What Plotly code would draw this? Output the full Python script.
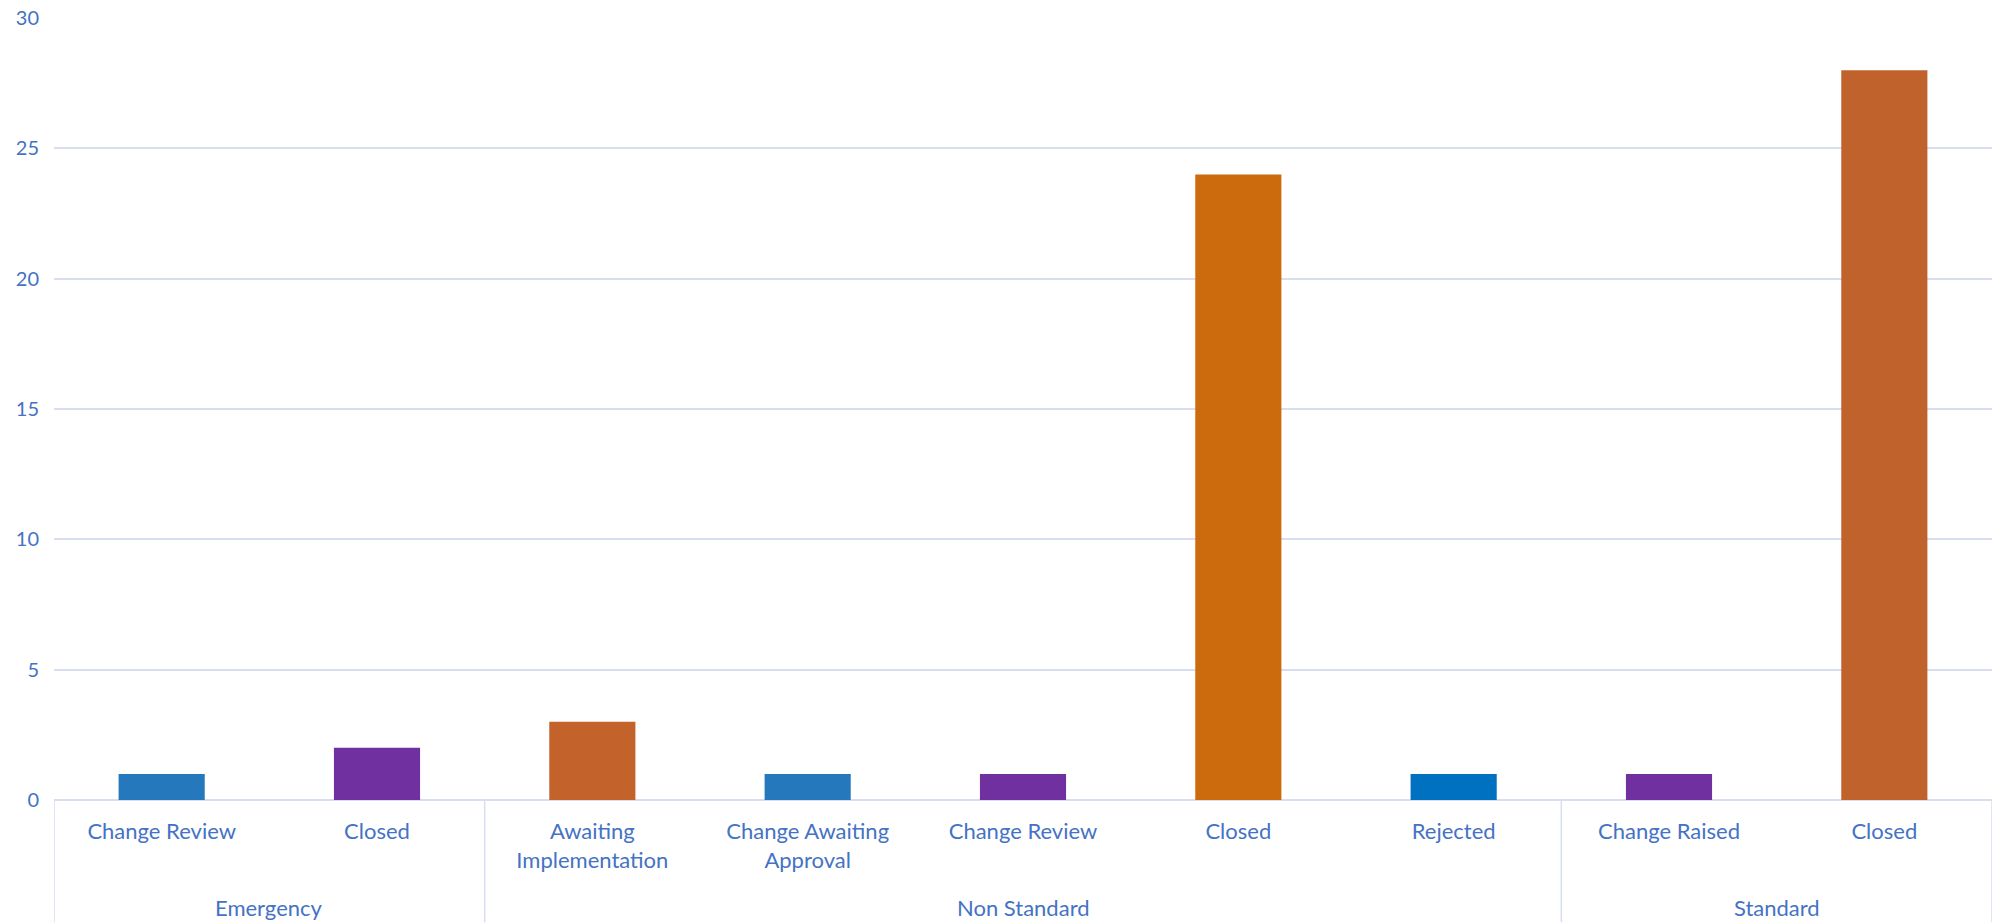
import plotly.graph_objects as go

groups = ["Emergency", "Emergency", "Non Standard", "Non Standard", "Non Standard",
          "Non Standard", "Non Standard", "Standard", "Standard"]
statuses = ["Change Review", "Closed", "Awaiting<br>Implementation", "Change Awaiting<br>Approval",
            "Change Review", "Closed", "Rejected", "Change Raised", "Closed"]
counts = [1, 2, 3, 1, 1, 24, 1, 1, 28]
y_ticks = [0, 5, 10, 15, 20, 25, 30]

bar_colors = ["#2678BC", "#7030A0", "#C3622B", "#2678BC", "#7030A0",
              "#CC6A0E", "#0070C0", "#7030A0", "#C0622C"]

text_color = "#4472C4"
grid_color = "#D6DEEF"
FONT = "Lato, Calibri, sans-serif"

W, H = 1997, 923
M_L, M_R, M_T, M_B = 54, 5, 13, 123
plot_h = H - M_T - M_B

xs = list(range(len(statuses)))

fig = go.Figure(go.Bar(
    x=xs,
    y=counts,
    width=0.4,
    marker=dict(color=bar_colors, line=dict(width=0)),
    showlegend=False,
))

# group spans
spans = []
start = 0
for i in range(1, len(groups) + 1):
    if i == len(groups) or groups[i] != groups[start]:
        spans.append((groups[start], start, i - 1))
        start = i

shapes = []
annotations = []
bottom = -M_B / plot_h
boundaries = sorted({s - 0.5 for _, s, _ in spans} | {e + 0.5 for _, _, e in spans})
for b in boundaries:
    shapes.append(dict(type="line", xref="x", yref="paper", x0=b, x1=b, y0=0, y1=bottom,
                       line=dict(color=grid_color, width=1.5)))
for name, s, e in spans:
    annotations.append(dict(text=name, xref="x", yref="paper", x=(s + e) / 2, y=-108 / plot_h,
                            showarrow=False, yanchor="middle", xanchor="center",
                            font=dict(family=FONT, size=22, color=text_color)))

fig.update_layout(
    width=W, height=H,
    margin=dict(l=M_L, r=M_R, t=M_T, b=M_B),
    paper_bgcolor="white", plot_bgcolor="white",
    font=dict(family=FONT, size=22, color=text_color),
    shapes=shapes,
    annotations=annotations,
    xaxis=dict(
        range=[-0.5, len(statuses) - 0.5],
        tickmode="array", tickvals=xs, ticktext=statuses,
        showgrid=False, zeroline=False,
        showline=False,
        tickfont=dict(family=FONT, size=22, color=text_color),
        ticks="", ticklabelstandoff=16,
    ),
    yaxis=dict(
        range=[0, 30], tickmode="array", tickvals=y_ticks,
        showgrid=True, gridcolor=grid_color, gridwidth=1.5,
        zeroline=True, zerolinecolor=grid_color, zerolinewidth=2,
        showline=False, ticks="",
        tickfont=dict(family=FONT, size=20, color=text_color),
        ticklabelstandoff=14,
    ),
)

fig.write_html("out.html")
